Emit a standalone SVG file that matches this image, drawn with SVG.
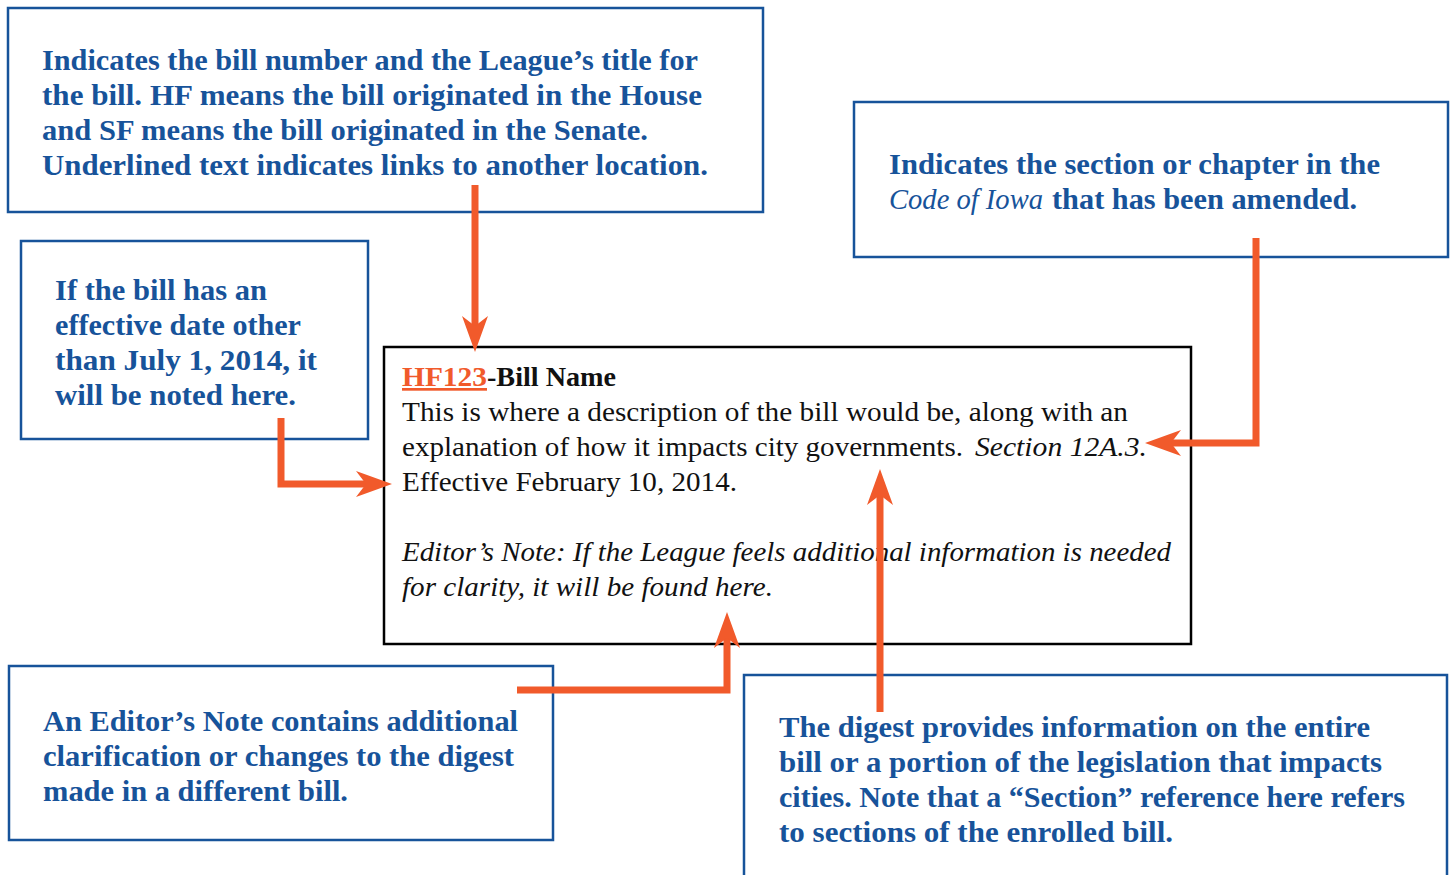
<svg xmlns="http://www.w3.org/2000/svg" width="1453" height="875" viewBox="0 0 1453 875">
<style>
.box{fill:#fff;stroke:#17539a;stroke-width:2.5}
.main{fill:#fff;stroke:#000;stroke-width:2.5}
.bt{font-family:"Liberation Serif",serif;font-weight:bold;font-size:29px;fill:#17539a}
.bi{font-family:"Liberation Serif",serif;font-style:italic;font-size:29px;fill:#17539a}
.tx{font-family:"Liberation Serif",serif;font-size:27px;fill:#111}
.it{font-family:"Liberation Serif",serif;font-style:italic;font-size:27px;fill:#111}
.conn{fill:none;stroke:#f15a2b;stroke-width:7;marker-end:url(#ah)}
</style>
<defs>
<marker id="ah" viewBox="0 -13 36 26" refX="10" refY="0" markerWidth="36" markerHeight="26" markerUnits="userSpaceOnUse" orient="auto">
<path d="M36,0 L0,-13 L10,0 L0,13 Z" fill="#f15a2b"/>
</marker>
</defs>
<rect width="1453" height="875" fill="#fff"/>

<g id="node-title">
<rect class="box" x="8" y="8" width="755" height="204"/>
<text class="bt" x="42" y="70" textLength="656" lengthAdjust="spacingAndGlyphs">Indicates the bill number and the League’s title for</text>
<text class="bt" x="42" y="105" textLength="660" lengthAdjust="spacingAndGlyphs">the bill. HF means the bill originated in the House</text>
<text class="bt" x="42" y="140" textLength="606" lengthAdjust="spacingAndGlyphs">and SF means the bill originated in the Senate.</text>
<text class="bt" x="42" y="175" textLength="666" lengthAdjust="spacingAndGlyphs">Underlined text indicates links to another location.</text>
</g>

<g id="node-code">
<rect class="box" x="854" y="102" width="594" height="155"/>
<text class="bt" x="889" y="174" textLength="491" lengthAdjust="spacingAndGlyphs">Indicates the section or chapter in the</text>
<text class="bi" x="889" y="209" textLength="154" lengthAdjust="spacingAndGlyphs">Code of Iowa</text>
<text class="bt" x="1052" y="209" textLength="305" lengthAdjust="spacingAndGlyphs">that has been amended.</text>
</g>

<g id="node-effective">
<rect class="box" x="21" y="241" width="347" height="198"/>
<text class="bt" x="55" y="300" textLength="212" lengthAdjust="spacingAndGlyphs">If the bill has an</text>
<text class="bt" x="55" y="335" textLength="246" lengthAdjust="spacingAndGlyphs">effective date other</text>
<text class="bt" x="55" y="370" textLength="262" lengthAdjust="spacingAndGlyphs">than July 1, 2014, it</text>
<text class="bt" x="55" y="405" textLength="241" lengthAdjust="spacingAndGlyphs">will be noted here.</text>
</g>

<g id="node-digest-entry">
<rect class="main" x="384" y="347" width="807" height="297"/>
<text x="402" y="386" font-family="Liberation Serif, serif" font-weight="bold" font-size="27" fill="#f15a2b" text-decoration="underline" textLength="85" lengthAdjust="spacingAndGlyphs">HF123</text>
<text x="487" y="386" font-family="Liberation Serif, serif" font-weight="bold" font-size="27" fill="#111" textLength="129" lengthAdjust="spacingAndGlyphs">-Bill Name</text>
<text class="tx" x="402" y="421" textLength="726" lengthAdjust="spacingAndGlyphs">This is where a description of the bill would be, along with an</text>
<text class="tx" x="402" y="456" textLength="561" lengthAdjust="spacingAndGlyphs">explanation of how it impacts city governments.</text>
<text class="it" x="975" y="456" textLength="172" lengthAdjust="spacingAndGlyphs">Section 12A.3.</text>
<text class="tx" x="402" y="491" textLength="335" lengthAdjust="spacingAndGlyphs">Effective February 10, 2014.</text>
<text class="it" x="402" y="561" textLength="769" lengthAdjust="spacingAndGlyphs">Editor’s Note: If the League feels additional information is needed</text>
<text class="it" x="402" y="596" textLength="371" lengthAdjust="spacingAndGlyphs">for clarity, it will be found here.</text>
</g>

<g id="node-editors-note">
<rect class="box" x="9" y="666" width="544" height="174"/>
<text class="bt" x="43" y="731" textLength="475" lengthAdjust="spacingAndGlyphs">An Editor’s Note contains additional</text>
<text class="bt" x="43" y="766" textLength="471" lengthAdjust="spacingAndGlyphs">clarification or changes to the digest</text>
<text class="bt" x="43" y="801" textLength="305" lengthAdjust="spacingAndGlyphs">made in a different bill.</text>
</g>

<g id="node-digest">
<rect class="box" x="744" y="675" width="703" height="210"/>
<text class="bt" x="779" y="737" textLength="591" lengthAdjust="spacingAndGlyphs">The digest provides information on the entire</text>
<text class="bt" x="779" y="772" textLength="603" lengthAdjust="spacingAndGlyphs">bill or a portion of the legislation that impacts</text>
<text class="bt" x="779" y="807" textLength="626" lengthAdjust="spacingAndGlyphs">cities. Note that a “Section” reference here refers</text>
<text class="bt" x="779" y="842" textLength="394" lengthAdjust="spacingAndGlyphs">to sections of the enrolled bill.</text>
</g>

<g id="connectors">
<path class="conn" d="M475,185 V326"/>
<path class="conn" d="M1256,238 V443 H1171"/>
<path class="conn" d="M281,418 V484 H366"/>
<path class="conn" d="M517,690 H727 V638"/>
<path class="conn" d="M880,712 V495"/>
</g>
</svg>
